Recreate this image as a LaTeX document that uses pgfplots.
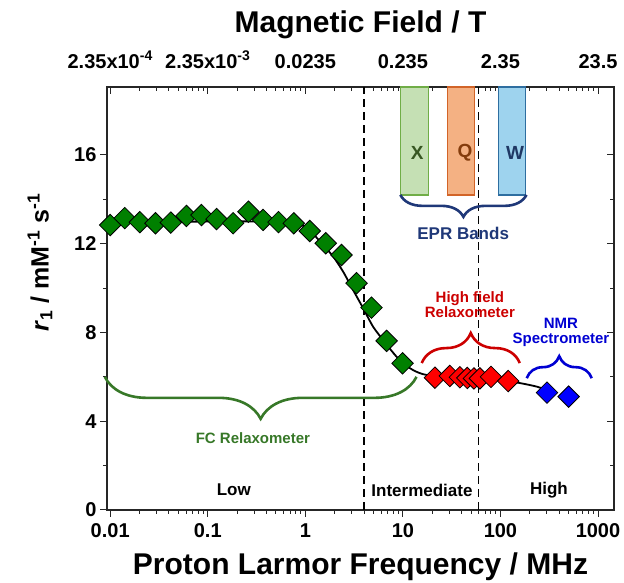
\documentclass[border=0pt]{standalone}
\usepackage{fontspec}
\setmainfont{Liberation Sans}
\usepackage{pgfplots}
\pgfplotsset{compat=1.18}
\usetikzlibrary{decorations.pathreplacing}

\definecolor{dgreen}{RGB}{0,128,0}
\definecolor{fcgreen}{RGB}{55,120,40}
\definecolor{hfred}{RGB}{204,0,0}
\definecolor{nmrblue}{RGB}{0,0,210}
\definecolor{eprnavy}{RGB}{31,56,120}
\definecolor{xfill}{RGB}{197,224,180}
\definecolor{xdraw}{RGB}{112,173,71}
\definecolor{xtext}{RGB}{56,87,35}
\definecolor{qfill}{RGB}{244,177,131}
\definecolor{qdraw}{RGB}{210,100,40}
\definecolor{qtext}{RGB}{132,60,12}
\definecolor{wfill}{RGB}{158,211,238}
\definecolor{wdraw}{RGB}{46,110,160}
\definecolor{wtext}{RGB}{31,56,100}

\newcommand{\fs}[1]{\fontsize{#1}{#1}\selectfont\bfseries}

\begin{document}
\begin{tikzpicture}
% top axis: magnetic field
\begin{axis}[
  scale only axis, width=507pt, height=423pt,
  xmode=log, xmin=0.00927, xmax=1459, ymin=0, ymax=19.06,
  axis line style={line width=1.2pt, black!85},
  major tick length=7pt, minor tick length=4pt,
  tick style={black!85, line width=1pt},
  ytick={0,4,8,12,16}, minor y tick num=1,
  ticklabel style={font=\fs{20}},
  xtick pos=right, xticklabel pos=right,
  ytick pos=right, yticklabels={},
  tick align=inside,
  xticklabels={,2.35x10\textsuperscript{-4},2.35x10\textsuperscript{-3},0.0235,0.235,2.35,23.5},
  xticklabel style={yshift=15pt},
  xlabel={Magnetic Field / T},
  x label style={at={(axis description cs:0.5,1.148)},anchor=center,font=\fs{30}},
]
\end{axis}

\begin{axis}[
  scale only axis, width=507pt, height=423pt,
  xmode=log, xmin=0.00927, xmax=1459, ymin=0, ymax=19.06,
  axis line style={line width=1.2pt, black!85},
  major tick length=7pt, minor tick length=4pt,
  tick style={black!85, line width=1pt},
  ytick={0,4,8,12,16}, minor y tick num=1,
  ticklabel style={font=\fs{20}},
  clip=false,
  xtick pos=left, ytick pos=left, tick align=outside,
  xticklabels={,0.01,0.1,1,10,100,1000},
  xticklabel style={yshift=-3pt},
  yticklabels={0,4,8,12,16},
  xlabel={Proton Larmor Frequency / MHz},
  ylabel={\textit{r}\textsubscript{1} / mM\textsuperscript{-1} s\textsuperscript{-1}},
  x label style={at={(axis description cs:0.5,-0.134)},anchor=center,font=\fs{30}},
  y label style={at={(axis description cs:-0.132,0.585)},anchor=center,font=\fs{25}},
  mark size=7.6pt,
]
% EPR bands
\addplot[fill=xfill, draw=xdraw, line width=1.3pt] coordinates {(9.42,14.2)(18.3,14.2)(18.3,19.06)(9.42,19.06)} -- cycle;
\addplot[fill=qfill, draw=qdraw, line width=1.3pt] coordinates {(28.6,14.2)(54.1,14.2)(54.1,19.06)(28.6,19.06)} -- cycle;
\addplot[fill=wfill, draw=wdraw, line width=1.3pt] coordinates {(95.2,14.2)(180,14.2)(180,19.06)(95.2,19.06)} -- cycle;
\node[font=\fs{19}, text=xtext] at (axis cs:14.0,16.1) {X};
\node[font=\fs{19}, text=qtext] at (axis cs:43.3,16.1) {Q};
\node[font=\fs{19}, text=wtext] at (axis cs:141,16.1) {W};

% region boundaries
\addplot[black, line width=1.4pt, dash pattern=on 8pt off 5pt] coordinates {(4,0)(4,19.06)};
\addplot[black, line width=1.4pt, dash pattern=on 8pt off 5pt] coordinates {(60,0)(60,19.06)};

% fit
\addplot[black, line width=1.8pt, smooth, no markers] coordinates {
(0.01,12.95)(0.0316,12.97)(0.1,13.0)(0.316,13.0)(0.63,12.93)(1.0,12.78)(1.11,12.62)
(1.52,11.94)(1.93,11.42)(2.44,10.74)(3.09,9.91)(3.92,9.09)(4.95,8.26)(6.28,7.66)
(8.61,6.91)(11.8,6.39)(16.1,6.12)(25.1,6.0)(50.1,5.95)(100,5.85)(158,5.72)(235,5.56)(290,5.42)};

% FC relaxometer
\addplot[only marks, mark=square*, mark options={rotate=45, fill=dgreen, draw=black, line width=0.8pt}] coordinates {
(0.01,12.84)(0.0141,13.15)(0.0201,12.97)(0.0291,12.92)(0.0418,12.95)(0.0605,13.25)(0.0861,13.29)
(0.123,13.11)(0.182,12.92)(0.261,13.44)(0.369,13.07)(0.531,12.97)(0.762,12.92)(1.11,12.57)
(1.62,12.02)(2.35,11.49)(3.35,10.22)(4.77,9.12)(6.81,7.62)(9.93,6.61)};
% high field relaxometer
\addplot[only marks, mark=square*, mark options={rotate=45, fill=red, draw=black, line width=0.8pt}] coordinates {
(21.3,5.96)(30.3,6.04)(38.4,5.98)(45.7,5.95)(53.5,5.93)(61.6,5.93)(80,6.0)(120,5.81)};
% NMR spectrometer
\addplot[only marks, mark=square*, mark options={rotate=45, fill=blue, draw=black, line width=0.8pt}] coordinates {
(300,5.29)(500,5.11)};

% braces and labels
\draw[fcgreen, line width=2.6pt, decorate, decoration={brace, mirror, amplitude=42pt}] (axis cs:0.0088,6.0) -- (axis cs:13.8,6.0);
\node[font=\fs{15}, text=fcgreen] at (axis cs:0.29,3.24) {FC Relaxometer};
\draw[hfred, line width=2.6pt, decorate, decoration={brace, amplitude=30pt}] (axis cs:15.6,6.62) -- (axis cs:158,6.62);
\node[font=\fs{15}, text=hfred, align=center] at (axis cs:48.6,9.24) {\fontsize{15}{18}\selectfont High field\\Relaxometer};
\draw[nmrblue, line width=2.6pt, decorate, decoration={brace, amplitude=22pt}] (axis cs:186,5.94) -- (axis cs:863,5.94);
\node[font=\fs{15}, text=nmrblue, align=center] at (axis cs:417,8.02) {\fontsize{15}{18}\selectfont NMR\\Spectrometer};
\draw[eprnavy, line width=2.6pt, decorate, decoration={brace, mirror, amplitude=22pt}] (axis cs:9.42,14.2) -- (axis cs:185,14.2);
\node[font=\fs{17}, text=eprnavy] at (axis cs:41.5,12.44) {EPR Bands};

\node[font=\fs{17}] at (axis cs:0.185,0.9) {Low};
\node[font=\fs{17}] at (axis cs:15.7,0.9) {Intermediate};
\node[font=\fs{17}] at (axis cs:314,0.9) {High};
\end{axis}
\pgfresetboundingbox
\useasboundingbox (-107pt,-73pt) rectangle (517pt,510pt);
\end{tikzpicture}
\end{document}
